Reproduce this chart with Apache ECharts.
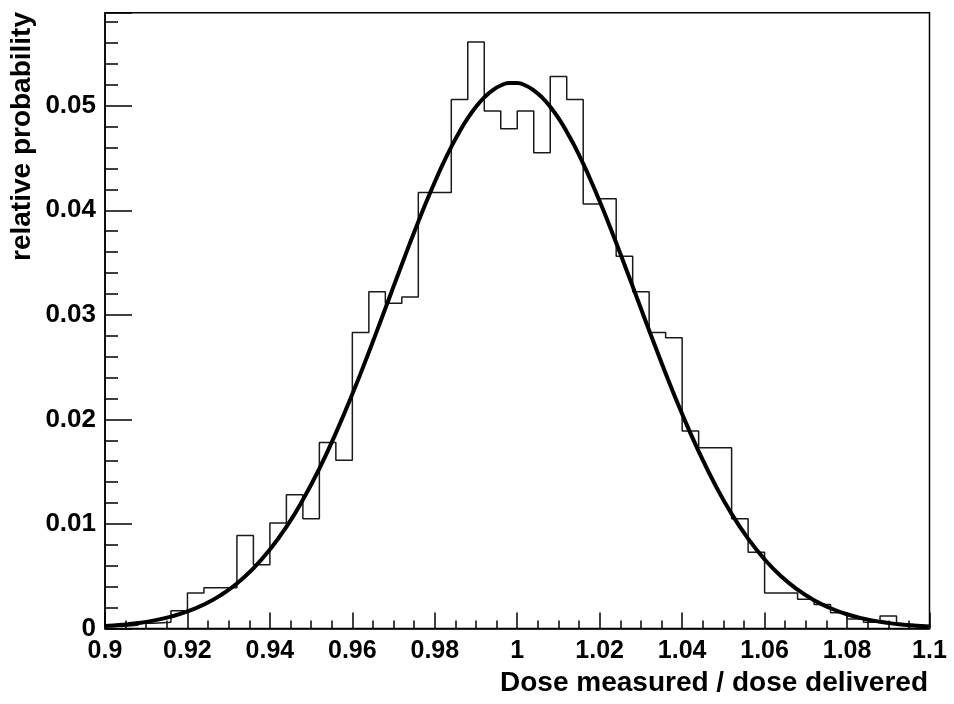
<!DOCTYPE html>
<html>
<head>
<meta charset="utf-8">
<script src="https://cdn.jsdelivr.net/npm/echarts@6/dist/echarts.min.js"></script>
<style>html,body{margin:0;padding:0;background:#fff;}#c{width:954px;height:704px;}</style>
</head>
<body>
<div id="c"></div>
<script>
// Histogram: 50 bins of width 0.004 from 0.9 to 1.1
const binStart = 0.9;
const binWidth = 0.004;
const binValues = [
  0.0002, 0.0003, 0.0005, 0.0006, 0.0017, 0.0034, 0.0039, 0.0039, 0.0089, 0.0061,
  0.0101, 0.0128, 0.0105, 0.0178, 0.0161, 0.0283, 0.0322, 0.0311, 0.0317, 0.0417,
  0.0417, 0.0506, 0.0561, 0.0495, 0.0478, 0.0495, 0.0455, 0.0528, 0.0506, 0.0406,
  0.0411, 0.0356, 0.0322, 0.0283, 0.0278, 0.0189, 0.0173, 0.0173, 0.0105, 0.0073,
  0.0034, 0.0034, 0.0028, 0.0023, 0.0015, 0.0009, 0.0006, 0.0012, 0.0004, 0.0002
];
// Fitted curve
const curveX = [
  0.900, 0.904, 0.908, 0.912, 0.916, 0.920, 0.924, 0.928, 0.932, 0.936,
  0.940, 0.944, 0.948, 0.952, 0.956, 0.960, 0.964, 0.968, 0.970, 0.972,
  0.974, 0.976, 0.978, 0.980, 0.982, 0.984, 0.986, 0.988, 0.990, 0.992,
  0.994, 0.996, 0.998, 1.000, 1.002, 1.004, 1.006, 1.008, 1.010, 1.012,
  1.014, 1.016, 1.018, 1.020, 1.022, 1.024, 1.026, 1.028, 1.030, 1.032,
  1.036, 1.040, 1.044, 1.048, 1.052, 1.056, 1.060, 1.064, 1.068, 1.072,
  1.076, 1.080, 1.084, 1.088, 1.092, 1.096, 1.100
];
const curveY = [
  0.00023, 0.00035, 0.00052, 0.00078, 0.00114, 0.00163, 0.00229, 0.00317, 0.00431, 0.00576,
  0.00755, 0.00972, 0.01231, 0.01530, 0.01869, 0.02242, 0.02643, 0.03061, 0.03272, 0.03482,
  0.03689, 0.03891, 0.04086, 0.04271, 0.04446, 0.04607, 0.04752, 0.04881, 0.04990, 0.05080,
  0.05148, 0.05194, 0.05217, 0.05217, 0.05194, 0.05148, 0.05080, 0.04990, 0.04881, 0.04752,
  0.04607, 0.04446, 0.04271, 0.04086, 0.03891, 0.03689, 0.03482, 0.03272, 0.03061, 0.02851,
  0.02440, 0.02052, 0.01695, 0.01375, 0.01096, 0.00859, 0.00661, 0.00499, 0.00371, 0.00270,
  0.00194, 0.00136, 0.00094, 0.00064, 0.00043, 0.00028, 0.00018
];
const xMin = 0.9, xMax = 1.1, yMax = 0.0589;
const xTitle = 'Dose measured / dose delivered';
const yTitle = 'relative probability';

const histData = [[binStart, 0]];
binValues.forEach((v, i) => histData.push([+(binStart + i * binWidth).toFixed(3), v]));
histData.push([xMax, binValues[binValues.length - 1]]);
histData.push([xMax, 0]);
const curveData = curveX.map((x, i) => [x, curveY[i]]);

const chart = echarts.init(document.getElementById('c'), null, {renderer: 'canvas'});
const labelFont = 'Liberation Sans, Arial, Helvetica, sans-serif';
chart.setOption({
  animation: false,
  backgroundColor: '#fff',
  grid: {left: 105, right: 24.5, top: 12.7, bottom: 75.5, show: true, borderColor: '#000', borderWidth: 1.5, backgroundColor: 'transparent'},
  xAxis: {
    type: 'value', min: xMin, max: xMax, interval: 0.02,
    axisLine: {show: true, onZero: false, lineStyle: {color: '#000', width: 1.5}},
    axisTick: {show: true, inside: true, length: 16, lineStyle: {color: '#000', width: 1.5}},
    minorTick: {show: true, splitNumber: 4, length: 8, lineStyle: {color: '#000', width: 1.5}},
    splitLine: {show: false},
    axisLabel: {
      margin: 10, color: '#000', fontWeight: 'bold', fontSize: 25, fontFamily: labelFont,
      formatter: v => String(+v.toFixed(2))
    }
  },
  yAxis: [{
    type: 'value', min: 0, max: yMax, interval: 0.01,
    axisLine: {show: true, lineStyle: {color: '#000', width: 1.5}},
    axisTick: {show: true, inside: true, length: 27, lineStyle: {color: '#000', width: 1.5}},
    splitLine: {show: false},
    axisLabel: {
      margin: 9, color: '#000', fontWeight: 'bold', fontSize: 26, fontFamily: labelFont,
      formatter: v => (Math.abs(v / 0.01 - Math.round(v / 0.01)) < 1e-6) ? String(+v.toFixed(2)) : ''
    }
  }, {
    type: 'value', min: 0, max: yMax, interval: 0.002, position: 'left', alignTicks: false,
    axisLine: {show: false},
    axisTick: {show: true, inside: true, length: 13, lineStyle: {color: '#000', width: 1.5}},
    splitLine: {show: false},
    axisLabel: {show: false}
  }],
  series: [{
    type: 'line', data: histData, step: 'end', symbol: 'none',
    lineStyle: {color: '#1a1a1a', width: 1.5}, silent: true, z: 2
  }, {
    type: 'line', data: curveData, smooth: true, symbol: 'none',
    lineStyle: {color: '#000', width: 4}, silent: true, z: 3
  }],
  graphic: [{
    type: 'text', x: 928, y: 683,
    style: {text: xTitle, font: 'bold 28px ' + labelFont, fill: '#000', textAlign: 'right', textVerticalAlign: 'middle'}
  }, {
    type: 'text', x: 22, y: 12, rotation: Math.PI / 2,
    style: {text: yTitle, font: 'bold 28px ' + labelFont, fill: '#000', textAlign: 'right', textVerticalAlign: 'middle'}
  }]
});
</script>
</body>
</html>
